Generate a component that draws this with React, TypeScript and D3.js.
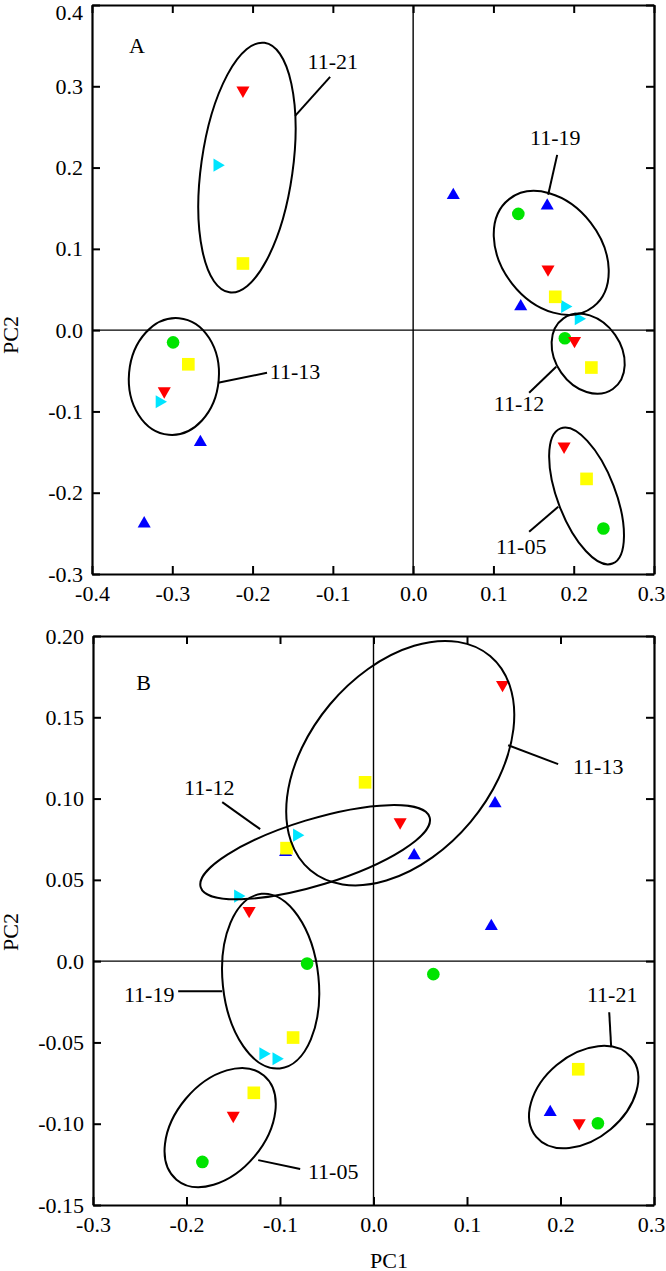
import React, { useEffect, useRef } from 'react';
import * as d3 from 'd3';

type Pt = [number, number];

// ---- panel A scores (PC1, PC2) ----
const aBlue: Pt[] = [[0.05, 0.166], [0.167, 0.153], [0.134, 0.029], [-0.265, -0.138], [-0.335, -0.238]];
const aGreen: Pt[] = [[0.131, 0.143], [0.189, -0.01], [-0.299, -0.015], [0.237, -0.244]];
const aRed: Pt[] = [[-0.212, 0.295], [0.168, 0.075], [0.201, -0.013], [-0.31, -0.075], [0.188, -0.143]];
const aCyan: Pt[] = [[-0.244, 0.203], [0.189, 0.029], [0.206, 0.014], [-0.316, -0.088]];
const aYellow: Pt[] = [[-0.212, 0.082], [0.177, 0.041], [0.222, -0.046], [-0.28, -0.042], [0.216, -0.183]];

// ---- panel B scores ----
const bBlue: Pt[] = [[0.13, 0.097], [0.0435, 0.065], [-0.094, 0.067], [0.126, 0.0215], [0.189, -0.093]];
const bGreen: Pt[] = [[-0.071, -0.0015], [0.064, -0.008], [-0.183, -0.1235], [0.24, -0.0997]];
const bRed: Pt[] = [[0.138, 0.17], [0.0285, 0.0855], [-0.133, 0.031], [-0.15, -0.095], [0.22, -0.0995]];
const bCyan: Pt[] = [[-0.082, 0.0775], [-0.145, 0.04], [-0.118, -0.057], [-0.104, -0.06]];
const bYellow: Pt[] = [[-0.009, 0.11], [-0.093, 0.0695], [-0.086, -0.047], [-0.128, -0.081], [0.219, -0.0665]];

// group ellipses: centre, half-axes (data units), tilt in degrees
const aEllipses = [
  { cx: -0.207, cy: 0.2, rx: 0.057, ry: 0.155, rot: 8 },
  { cx: 0.172, cy: 0.095, rx: 0.062, ry: 0.084, rot: -38 },
  { cx: 0.218, cy: -0.029, rx: 0.041, ry: 0.053, rot: -35 },
  { cx: 0.216, cy: -0.204, rx: 0.036, ry: 0.089, rot: -21 },
  { cx: -0.298, cy: -0.057, rx: 0.056, ry: 0.072, rot: 5 },
];
const bEllipses = [
  { cx: 0.0286, cy: 0.1218, rx: 0.098, ry: 0.086, rot: 40 },
  { cx: -0.0624, cy: 0.067, rx: 0.128, ry: 0.0203, rot: -17 },
  { cx: -0.11, cy: -0.0123, rx: 0.0513, ry: 0.054, rot: -6 },
  { cx: -0.164, cy: -0.1024, rx: 0.048, ry: 0.0418, rot: 40 },
  { cx: 0.2248, cy: -0.0836, rx: 0.0449, ry: 0.0381, rot: 50 },
];

// group labels with leader lines (data units)
const aNotes = [
  { label: '11-21', tx: -0.1, ty: 0.33, x1: -0.147, y1: 0.2635, x2: -0.1034, y2: 0.3115 },
  { label: '11-19', tx: 0.177, ty: 0.2365, x1: 0.1794, y1: 0.2156, x2: 0.1682, y2: 0.1665 },
  { label: '11-12', tx: 0.132, ty: -0.0907, x1: 0.1445, y1: -0.0771, x2: 0.1782, y2: -0.0451 },
  { label: '11-05', tx: 0.1346, ty: -0.2665, x1: 0.1445, y1: -0.248, x2: 0.1807, y2: -0.2173 },
  { label: '11-13', tx: -0.147, ty: -0.0507, x1: -0.243, y1: -0.0648, x2: -0.182, y2: -0.0525 },
];
const bNotes = [
  { label: '11-13', tx: 0.2403, ty: 0.1193, x1: 0.144, y1: 0.1328, x2: 0.1975, y2: 0.1212 },
  { label: '11-12', tx: -0.1757, ty: 0.1064, x1: -0.1618, y1: 0.0978, x2: -0.1212, y2: 0.0812 },
  { label: '11-19', tx: -0.2399, ty: -0.0209, x1: -0.2089, y1: -0.0185, x2: -0.1618, y2: -0.0185 },
  { label: '11-05', tx: -0.0431, ty: -0.1298, x1: -0.1233, y1: -0.1224, x2: -0.0784, y2: -0.1279 },
  { label: '11-21', tx: 0.2553, ty: -0.0209, x1: 0.2542, y1: -0.0529, x2: 0.2521, y2: -0.0314 },
];

// axes
const aXTicks = [-0.4, -0.3, -0.2, -0.1, 0, 0.1, 0.2, 0.3];
const aXLabels = ['-0.4', '-0.3', '-0.2', '-0.1', '0.0', '0.1', '0.2', '0.3'];
const aYTicks = [-0.3, -0.2, -0.1, 0, 0.1, 0.2, 0.3, 0.4];
const aYLabels = ['-0.3', '-0.2', '-0.1', '0.0', '0.1', '0.2', '0.3', '0.4'];
const bXTicks = [-0.3, -0.2, -0.1, 0, 0.1, 0.2, 0.3];
const bXLabels = ['-0.3', '-0.2', '-0.1', '0.0', '0.1', '0.2', '0.3'];
const bYTicks = [-0.15, -0.1, -0.05, 0, 0.05, 0.1, 0.15, 0.2];
const bYLabels = ['-0.15', '-0.10', '-0.05', '0.0', '0.05', '0.10', '0.15', '0.20'];

const FONT = '"Liberation Serif", "Times New Roman", serif';
const FS = 22;

const markers = [
  { shape: 'up', color: '#0000ff' },
  { shape: 'circle', color: '#00e400' },
  { shape: 'down', color: '#ff0000' },
  { shape: 'right', color: '#00e5ff' },
  { shape: 'square', color: '#ffff00' },
];

const panels = [
  {
    letter: 'A', lx: -0.344, ly: 0.35,
    box: { left: 92, right: 654, top: 5, bottom: 574 },
    xTicks: aXTicks, xLabels: aXLabels, yTicks: aYTicks, yLabels: aYLabels,
    series: [aBlue, aGreen, aRed, aCyan, aYellow],
    ellipses: aEllipses, notes: aNotes, pc2y: 335, pc1: false,
  },
  {
    letter: 'B', lx: -0.246, ly: 0.171,
    box: { left: 93, right: 654, top: 636, bottom: 1205 },
    xTicks: bXTicks, xLabels: bXLabels, yTicks: bYTicks, yLabels: bYLabels,
    series: [bBlue, bGreen, bRed, bCyan, bYellow],
    ellipses: bEllipses, notes: bNotes, pc2y: 932, pc1: true,
  },
];

function Panel({ cfg }: { cfg: any }) {
  const ref = useRef<SVGGElement>(null);

  useEffect(() => {
    const g = d3.select(ref.current);
    g.selectAll('*').remove();
    const { left, right, top, bottom } = cfg.box;
    const xt = cfg.xTicks, yt = cfg.yTicks;

    const x = d3.scaleLinear().domain([xt[0], xt[xt.length - 1]]).range([left, right]);
    const y = d3.scaleLinear().domain([yt[0], yt[yt.length - 1]]).range([bottom, top]);

    // zero lines
    g.append('line').attr('x1', x(0)).attr('x2', x(0)).attr('y1', top).attr('y2', bottom)
      .attr('stroke', '#000').attr('stroke-width', 1.4);
    g.append('line').attr('x1', left).attr('x2', right).attr('y1', y(0)).attr('y2', y(0))
      .attr('stroke', '#000').attr('stroke-width', 1.4);

    // points
    const tri = d3.symbol().type(d3.symbolTriangle).size(74)();
    const sq = d3.symbol().type(d3.symbolSquare).size(160)();
    const circ = d3.symbol().type(d3.symbolCircle).size(125)();
    const rotFor: any = { up: 0, down: 180, right: 90 };

    cfg.series.forEach((pts: Pt[], i: number) => {
      const m = markers[i];
      const path = m.shape === 'square' ? sq : m.shape === 'circle' ? circ : tri;
      g.selectAll(null)
        .data(pts)
        .enter()
        .append('path')
        .attr('d', path)
        .attr('fill', m.color)
        .attr('transform', d => `translate(${x(d[0])},${y(d[1])}) rotate(${rotFor[m.shape] || 0})`);
    });

    // ellipses
    g.selectAll(null)
      .data(cfg.ellipses)
      .enter()
      .append('ellipse')
      .attr('cx', (d: any) => x(d.cx))
      .attr('cy', (d: any) => y(d.cy))
      .attr('rx', (d: any) => x(d.cx + d.rx) - x(d.cx))
      .attr('ry', (d: any) => y(d.cy) - y(d.cy + d.ry))
      .attr('transform', (d: any) => `rotate(${d.rot} ${x(d.cx)} ${y(d.cy)})`)
      .attr('fill', 'none')
      .attr('stroke', '#000')
      .attr('stroke-width', 2);

    // leaders + labels
    const notes = g.selectAll(null).data(cfg.notes).enter().append('g');
    notes.append('line')
      .attr('x1', (d: any) => x(d.x1)).attr('y1', (d: any) => y(d.y1))
      .attr('x2', (d: any) => x(d.x2)).attr('y2', (d: any) => y(d.y2))
      .attr('stroke', '#000').attr('stroke-width', 2);
    notes.append('text')
      .attr('x', (d: any) => x(d.tx)).attr('y', (d: any) => y(d.ty))
      .attr('dy', '0.33em')
      .attr('text-anchor', 'middle')
      .attr('font-family', FONT).attr('font-size', FS)
      .text((d: any) => d.label);

    g.append('text')
      .attr('x', x(cfg.lx)).attr('y', y(cfg.ly)).attr('dy', '0.33em')
      .attr('text-anchor', 'middle')
      .attr('font-family', FONT).attr('font-size', FS)
      .text(cfg.letter);

    // axes, ticks pointing inward on all four sides
    const fx = (d: any) => cfg.xLabels[xt.indexOf(d)];
    const fy = (d: any) => cfg.yLabels[yt.indexOf(d)];
    const style = (sel: any) => {
      sel.attr('font-family', FONT).attr('font-size', FS);
      sel.select('.domain').attr('stroke-width', 2.2);
      sel.selectAll('.tick line').attr('stroke-width', 2);
      sel.selectAll('.tick text').attr('fill', '#000');
    };

    const xAxis = g.append('g').attr('transform', `translate(0,${bottom})`)
      .call(d3.axisBottom(x).tickValues(xt).tickFormat(fx).tickSizeInner(-8).tickSizeOuter(0).tickPadding(11))
      .call(style);
    // keep the last label inside the picture
    xAxis.selectAll('.tick text').filter((d: any) => d === xt[xt.length - 1]).attr('dx', -3);

    g.append('g').attr('transform', `translate(0,${top})`)
      .call(d3.axisTop(x).tickValues(xt).tickFormat(() => '').tickSizeInner(-8).tickSizeOuter(0))
      .call(style);
    const yAxis = g.append('g').attr('transform', `translate(${left},0)`)
      .call(d3.axisLeft(y).tickValues(yt).tickFormat(fy).tickSizeInner(-8).tickSizeOuter(0).tickPadding(9))
      .call(style);
    if (top < 12) {
      yAxis.selectAll('.tick text').filter((d: any) => d === yt[yt.length - 1]).attr('y', 12 - top);
    }
    g.append('g').attr('transform', `translate(${right},0)`)
      .call(d3.axisRight(y).tickValues(yt).tickFormat(() => '').tickSizeInner(-8).tickSizeOuter(0))
      .call(style);

    g.append('text')
      .attr('transform', `translate(11,${cfg.pc2y}) rotate(-90)`)
      .attr('dy', '0.33em')
      .attr('text-anchor', 'middle')
      .attr('font-family', FONT).attr('font-size', FS)
      .text('PC2');

    if (cfg.pc1) {
      g.append('text')
        .attr('x', 389).attr('y', 1261).attr('dy', '0.33em')
        .attr('text-anchor', 'middle')
        .attr('font-family', FONT).attr('font-size', FS)
        .text('PC1');
    }
  }, [cfg]);

  return <g ref={ref} />;
}

export default function App() {
  return (
    <svg
      width={666}
      height={1271}
      style={{ position: 'absolute', left: 0, top: 0, display: 'block', background: '#fff' }}
    >
      {panels.map(p => (
        <Panel key={p.letter} cfg={p} />
      ))}
    </svg>
  );
}
